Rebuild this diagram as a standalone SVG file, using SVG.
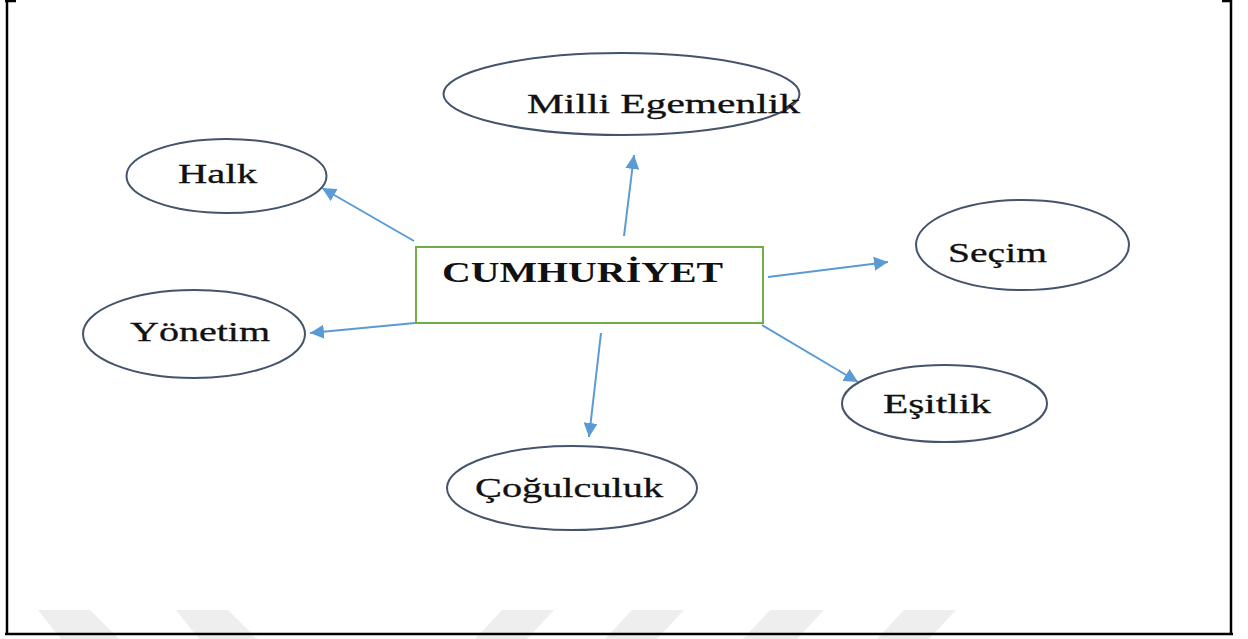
<svg xmlns="http://www.w3.org/2000/svg" width="1248" height="639" viewBox="0 0 1248 639">
<style>
.frame{stroke:#000;stroke-width:2.5;fill:none}
.wm{fill:#eeeeee}
.oval{fill:#fff;stroke:#44546a;stroke-width:2}
.box{fill:#fff;stroke:#70ad47;stroke-width:2}
.lbl{font-family:"Liberation Serif","Times New Roman",serif;font-size:27px;fill:#111;stroke:#111;stroke-width:0.3}
.title{font-family:"Liberation Serif","Times New Roman",serif;font-size:30px;font-weight:bold;fill:#111}
.conn{stroke:#5b9bd5;stroke-width:2;fill:none;marker-end:url(#ah)}
</style>
<defs>
<marker id="ah" markerUnits="userSpaceOnUse" markerWidth="16" markerHeight="14" refX="14" refY="7" orient="auto">
<path d="M0,0 L14,7 L0,14 Z" fill="#5b9bd5"/>
</marker>
</defs>
<rect width="1248" height="639" fill="#fff"/>
<g id="watermark">
<polygon class="wm" points="38,610 90,610 119,639 61,639"/>
<polygon class="wm" points="176,610 228,610 257,639 199,639"/>
<polygon class="wm" points="502,610 554,610 527,639 475,639"/>
<polygon class="wm" points="632,610 684,610 657,639 605,639"/>
<polygon class="wm" points="770,610 824,610 797,639 743,639"/>
<polygon class="wm" points="904,610 956,610 929,639 877,639"/>
</g>
<g id="frame">
<path class="frame" d="M7,0 V635 M5,1 H16 M1231,0 V635 M1222,1 H1232 M5,634 H1233"/>
</g>
<g id="connectors">
<line class="conn" x1="624" y1="236" x2="634" y2="155"/>
<line class="conn" x1="414" y1="241" x2="322" y2="188"/>
<line class="conn" x1="768" y1="277" x2="888" y2="262"/>
<line class="conn" x1="415" y1="323" x2="310" y2="333"/>
<line class="conn" x1="762" y1="325" x2="858" y2="382"/>
<line class="conn" x1="601" y1="333" x2="589" y2="437"/>
</g>
<g id="node-cumhuriyet">
<rect class="box" x="416" y="247" width="347" height="76"/>
<text class="title" transform="translate(442,282) scale(1.33,1)" x="0" y="0" textLength="211.3" lengthAdjust="spacingAndGlyphs">CUMHURİYET</text>
</g>
<g id="node-milli-egemenlik">
<ellipse class="oval" cx="621.5" cy="94" rx="178" ry="41"/>
<text class="lbl" transform="translate(527,113) scale(1.49,1)" x="0" y="0" textLength="183.2" lengthAdjust="spacingAndGlyphs">Milli Egemenlik</text>
</g>
<g id="node-halk">
<ellipse class="oval" cx="226.5" cy="176" rx="100" ry="37"/>
<text class="lbl" transform="translate(178,183) scale(1.49,1)" x="0" y="0" textLength="53" lengthAdjust="spacingAndGlyphs">Halk</text>
</g>
<g id="node-secim">
<ellipse class="oval" cx="1022.5" cy="245" rx="106.5" ry="45"/>
<text class="lbl" transform="translate(948,262) scale(1.49,1)" x="0" y="0" textLength="66.4" lengthAdjust="spacingAndGlyphs">Seçim</text>
</g>
<g id="node-yonetim">
<ellipse class="oval" cx="194" cy="334" rx="111" ry="44"/>
<text class="lbl" transform="translate(130,341) scale(1.49,1)" x="0" y="0" textLength="94" lengthAdjust="spacingAndGlyphs">Yönetim</text>
</g>
<g id="node-esitlik">
<ellipse class="oval" cx="944.5" cy="403.5" rx="102.5" ry="38.5"/>
<text class="lbl" transform="translate(883,413) scale(1.49,1)" x="0" y="0" textLength="72.5" lengthAdjust="spacingAndGlyphs">Eşitlik</text>
</g>
<g id="node-cogulculuk">
<ellipse class="oval" cx="572" cy="488" rx="125" ry="42"/>
<text class="lbl" transform="translate(475,497) scale(1.49,1)" x="0" y="0" textLength="126.2" lengthAdjust="spacingAndGlyphs">Çoğulculuk</text>
</g>
</svg>
